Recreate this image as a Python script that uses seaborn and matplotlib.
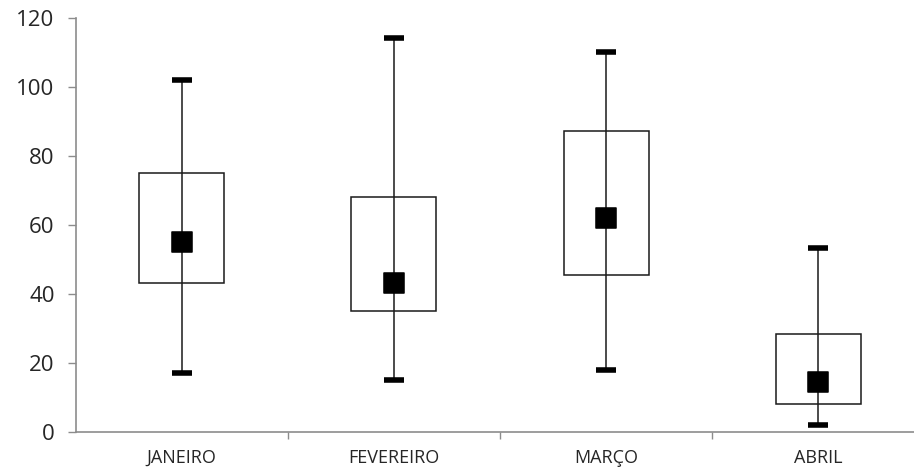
import numpy as np
import pandas as pd
import matplotlib
matplotlib.use("Agg")
import matplotlib.pyplot as plt
import seaborn as sns

# Values
months = ["JANEIRO", "FEVEREIRO", "MARÇO", "ABRIL"]
minimo = [17, 15, 18, 2]
q_baixo = [43, 35, 45.4, 8]
centro = [55, 43, 62, 14.6]
q_alto = [75, 68, 87.2, 28.3]
maximo = [102, 114, 110, 53.3]

df = pd.DataFrame({
    "mes": months,
    "min": minimo,
    "low": q_baixo,
    "mid": centro,
    "high": q_alto,
    "max": maximo,
})

sns.set_style("white")
plt.rcParams["font.family"] = ["Open Sans", "DejaVu Sans"]

fig = plt.figure(figsize=(9.14, 4.72), dpi=100)
ax = fig.add_axes([75.5 / 914, 40 / 472, 849 / 914, 414.5 / 472])

x = np.arange(len(months))

# whiskers
ax.vlines(x, df["min"], df["max"], color="#1a1a1a", linewidth=1.1, zorder=1)

# boxes
ax.bar(x, df["high"] - df["low"], bottom=df["low"], width=0.4,
       facecolor="white", edgecolor="#1a1a1a", linewidth=1.1, zorder=2)

# redraw whisker over the box fill
ax.vlines(x, df["low"], df["high"], color="#1a1a1a", linewidth=1.1, zorder=3)

# caps
for col in ["min", "max"]:
    sns.scatterplot(x=x, y=df[col], marker="_", s=200, color="black",
                    linewidth=4, ax=ax, zorder=4, legend=False)

# center markers
sns.scatterplot(x=x, y=df["mid"], marker="s", s=200, color="black",
                edgecolor="black", ax=ax, zorder=5, legend=False)

ax.set_xlim(-0.5, 3.5)
ax.set_ylim(0, 120)
ax.set_yticks(range(0, 121, 20))
ax.set_xticks(x)
ax.set_xticklabels(months, fontsize=13, color="#262626")
ax.set_xticks([0.5, 1.5, 2.5], minor=True)
ax.tick_params(axis="x", which="major", length=0, pad=12)
ax.tick_params(axis="x", which="minor", length=5, width=1, color="#8c8c8c",
               direction="out", bottom=True)
ax.tick_params(axis="y", length=6, width=1, color="#8c8c8c", direction="out",
               left=True, labelsize=16, labelcolor="#262626", pad=9)
ax.set_xlabel("")
ax.set_ylabel("")

for side in ["top", "right"]:
    ax.spines[side].set_visible(False)
for side in ["left", "bottom"]:
    ax.spines[side].set_color("#8c8c8c")
    ax.spines[side].set_linewidth(1.2)

plt.savefig("out.png", dpi=100)
